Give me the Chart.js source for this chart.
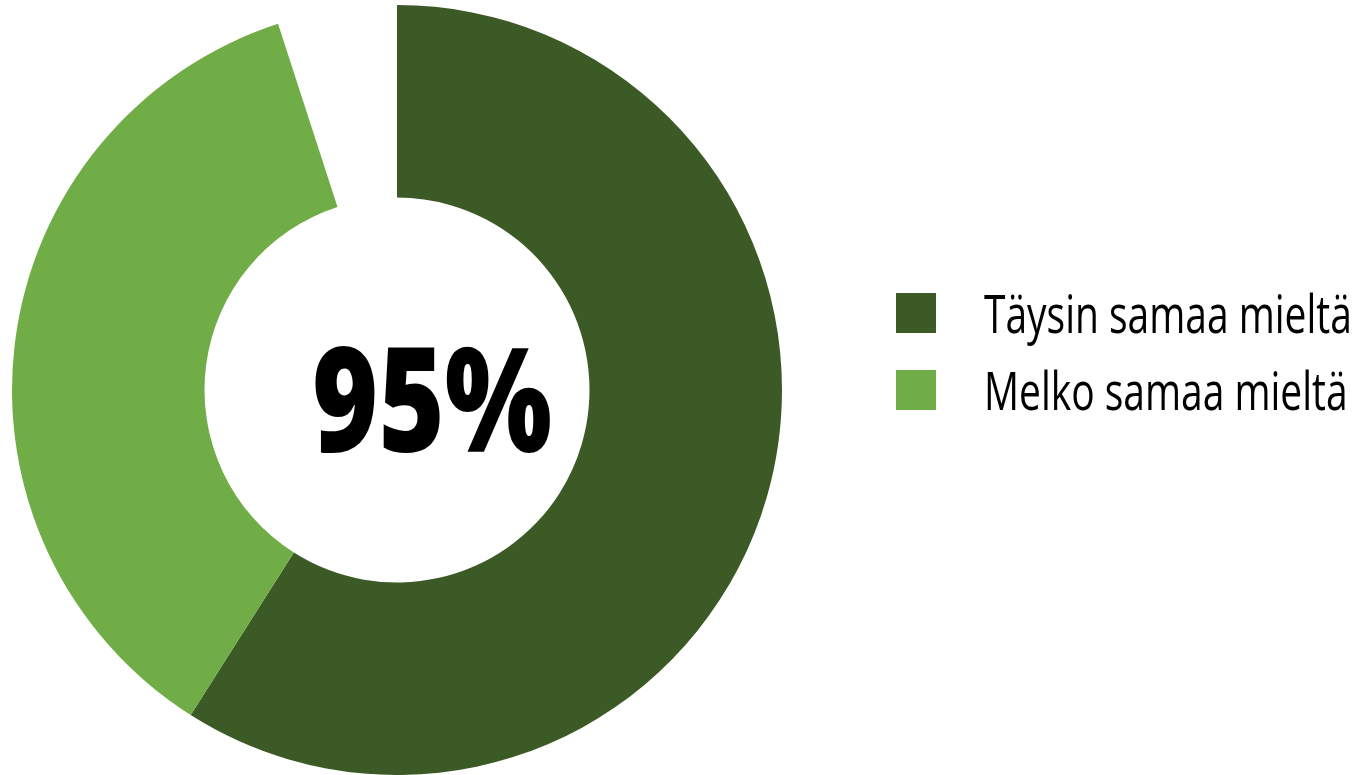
<!DOCTYPE html>
<html lang="fi">
<head>
    <meta charset="UTF-8">
    <title>Samaa mieltä</title>
    <script src="https://cdn.jsdelivr.net/npm/chart.js"></script>
    <style>
        body {
            margin: 0;
            background-color: #ffffff;
        }

        .chart-box {
            position: relative;
            width: 1355px;
            height: 775px;
        }
    </style>
</head>
<body>
    <div class="chart-box">
        <canvas id="agreeChart"></canvas>
    </div>

    <script>
        const categories = ['Täysin samaa mieltä', 'Melko samaa mieltä'];
        const shares = [59, 36];
        const sliceColors = ['#3c5a25', '#70ad47'];
        const centerLabel = '95%';

        // the rest of the ring stays empty
        const emptyShare = 100 - shares.reduce((a, b) => a + b, 0);

        const FONT = '"Open Sans", "Noto Sans", sans-serif';

        // text squeezed sideways to look like a condensed face
        function narrowText(ctx, text, x, y, squeeze) {
            ctx.save();
            ctx.translate(x, y);
            ctx.scale(squeeze, 1);
            ctx.fillText(text, 0, 0);
            ctx.restore();
        }

        // draws the big number inside the ring and the legend on the right
        const overlayPlugin = {
            id: 'overlay',
            afterDraw(chart) {
                const ctx = chart.ctx;
                const arc = chart.getDatasetMeta(0).data[0];

                ctx.save();
                ctx.fillStyle = '#000000';
                ctx.font = '800 145px ' + FONT;
                ctx.textAlign = 'center';
                ctx.textBaseline = 'alphabetic';
                narrowText(ctx, centerLabel, arc.x + 35, arc.y + 62, 0.78);

                const boxX = 896;
                const boxY = 293;
                const boxSize = 40;
                const rowGap = 77;
                ctx.textAlign = 'left';
                ctx.font = '53px ' + FONT;
                categories.forEach((name, i) => {
                    const y = boxY + i * rowGap;
                    ctx.fillStyle = sliceColors[i];
                    ctx.fillRect(boxX, y, boxSize, boxSize);
                    ctx.fillStyle = '#000000';
                    narrowText(ctx, name, boxX + boxSize + 48, y + boxSize, 0.735);
                });
                ctx.restore();
            }
        };

        new Chart(document.getElementById('agreeChart'), {
            type: 'doughnut',
            data: {
                labels: [...categories, ''],
                datasets: [{
                    data: [...shares, emptyShare],
                    backgroundColor: [...sliceColors, 'rgba(0,0,0,0)'],
                    borderWidth: 0,
                    hoverOffset: 0
                }]
            },
            options: {
                responsive: true,
                maintainAspectRatio: false,
                animation: false,
                cutout: '50%',
                layout: {
                    padding: { left: 12, top: 5, right: 573, bottom: 0 }
                },
                plugins: {
                    legend: { display: false },
                    tooltip: { enabled: false }
                }
            },
            plugins: [overlayPlugin]
        });
    </script>
</body>
</html>
